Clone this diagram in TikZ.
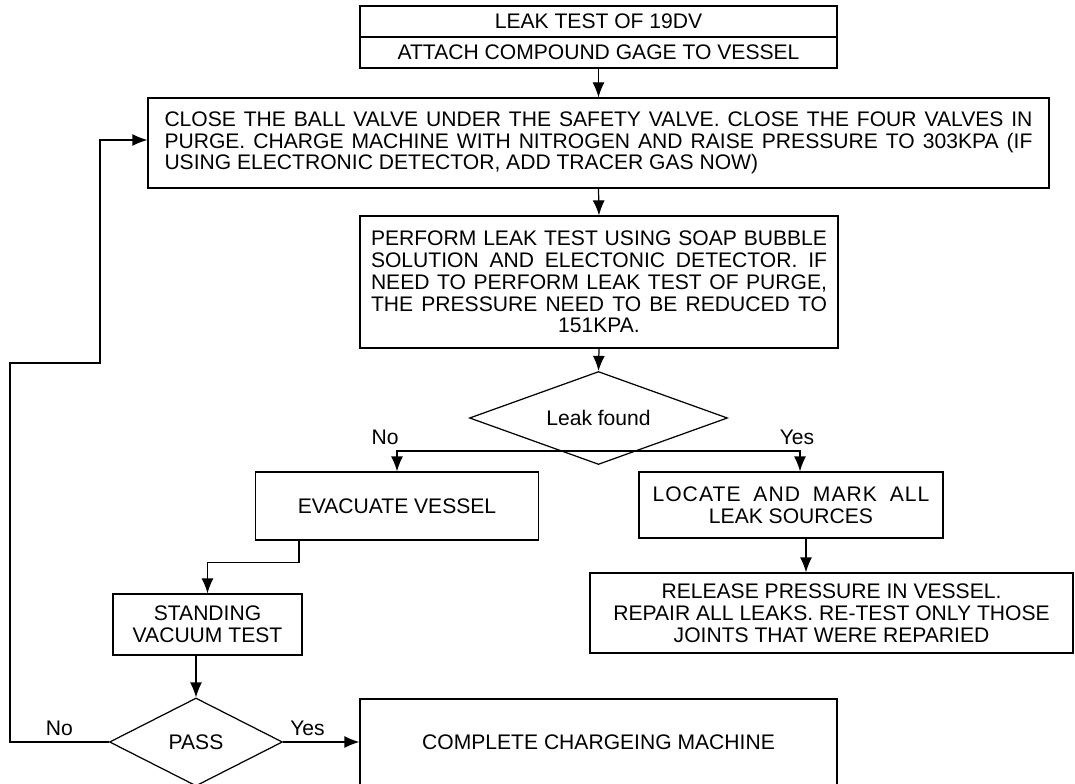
\documentclass[tikz,border=0pt]{standalone}
\usepackage{fontspec}
\setmainfont{Liberation Sans}
\usetikzlibrary{shapes.geometric,arrows.meta}
\hyphenpenalty=10000
\newcommand{\chartfont}{\fontsize{12}{12.4}\selectfont}
\tikzset{
  proc/.style={draw, line width=0.7pt, inner sep=0pt, align=center, font=\chartfont},
  decide/.style={draw, diamond, line width=0.7pt, inner sep=0pt, font=\chartfont},
  flow/.style={line width=0.7pt, -{Latex[length=3mm,width=2.4mm]}},
  lbl/.style={font=\chartfont, inner sep=3.5pt}
}
\begin{document}
\begin{tikzpicture}[x=1cm,y=1cm]
\useasboundingbox (0,0) rectangle (21.5,15.66);
\clip (0,0) rectangle (21.5,15.66);
\node[proc, minimum width=9.54cm, minimum height=0.62cm] (title) at (11.97,15.23) {LEAK TEST OF 19DV};
\node[proc, minimum width=9.54cm, minimum height=0.62cm] (attach) at (11.97,14.61) {ATTACH COMPOUND GAGE TO VESSEL};
\node[proc, minimum width=18.02cm, minimum height=1.8cm, text width=17.36cm, align=justify] (close) at (11.97,12.80)
  {CLOSE THE BALL VALVE UNDER THE SAFETY VALVE. CLOSE THE FOUR VALVES IN\linebreak
   PURGE. CHARGE MACHINE WITH NITROGEN AND RAISE PRESSURE TO 303KPA (IF\linebreak
   USING ELECTRONIC DETECTOR, ADD TRACER GAS NOW)};
\node[proc, minimum width=9.56cm, minimum height=2.64cm, text width=9.12cm, align=justify] (perform) at (11.98,10.02)
  {PERFORM LEAK TEST USING SOAP BUBBLE\linebreak
   SOLUTION AND ELECTONIC DETECTOR. IF\linebreak
   NEED TO PERFORM LEAK TEST OF PURGE,\linebreak
   THE PRESSURE NEED TO BE REDUCED TO\linebreak
   \null\hfil 151KPA.};
\node[decide, aspect=2.77, minimum width=5.16cm, minimum height=1.86cm] (leak) at (11.97,7.30) {Leak found};
\coordinate (split) at ([yshift=-0.66cm]leak.center);
\node[proc, minimum width=5.66cm, minimum height=1.36cm] (evac) at (7.94,5.54) {EVACUATE VESSEL};
\node[proc, minimum width=6.08cm, minimum height=1.32cm] (locate) at (15.82,5.56)
  {\makebox[5.54cm][s]{\addfontfeature{LetterSpace=5}LOCATE AND MARK ALL}\\LEAK SOURCES};
\node[proc, minimum width=9.66cm, minimum height=1.6cm] (release) at (16.63,3.40)
  {RELEASE PRESSURE IN VESSEL.\\REPAIR ALL LEAKS. RE-TEST ONLY THOSE\\JOINTS THAT WERE REPARIED};
\node[proc, minimum width=3.78cm, minimum height=1.22cm] (stand) at (4.15,3.17) {STANDING\\VACUUM TEST};
\node[decide, aspect=1.97, minimum width=3.46cm, minimum height=1.76cm] (pass) at (3.92,0.82) {PASS};
\node[proc, minimum width=9.54cm, minimum height=1.72cm] (charge) at (11.97,0.82) {COMPLETE CHARGEING MACHINE};

\draw[flow] (attach.south) -- (close.north);
\draw[flow] (close.south) -- (perform.north);
\draw[flow] (perform.south) -- (leak.north);
\draw[flow] (split) -| node[lbl, pos=0.5, above, xshift=-0.24cm] {No} (evac.north);
\draw[flow] (split) -| node[lbl, pos=0.5, above, xshift=-0.06cm] {Yes} ([xshift=0.18cm]locate.north);
\draw[flow] ([xshift=0.3cm]locate.south) -- ([xshift=0.3cm]locate.south |- release.north);
\draw[flow] ([xshift=0.88cm]evac.south west) -- ++(0,-0.44) -| (stand.north);
\draw[flow] (stand.south -| pass.north) -- (pass.north);
\draw[flow] (pass.east) -- node[lbl, pos=0.32, above] {Yes} (charge.west);
\draw[flow] (pass.west) -- node[lbl, above] {No} ++(-1.98,0) -- ++(0,7.58) -- ++(1.8,0)
  |- ([yshift=0.06cm]close.west);
\end{tikzpicture}
\end{document}
